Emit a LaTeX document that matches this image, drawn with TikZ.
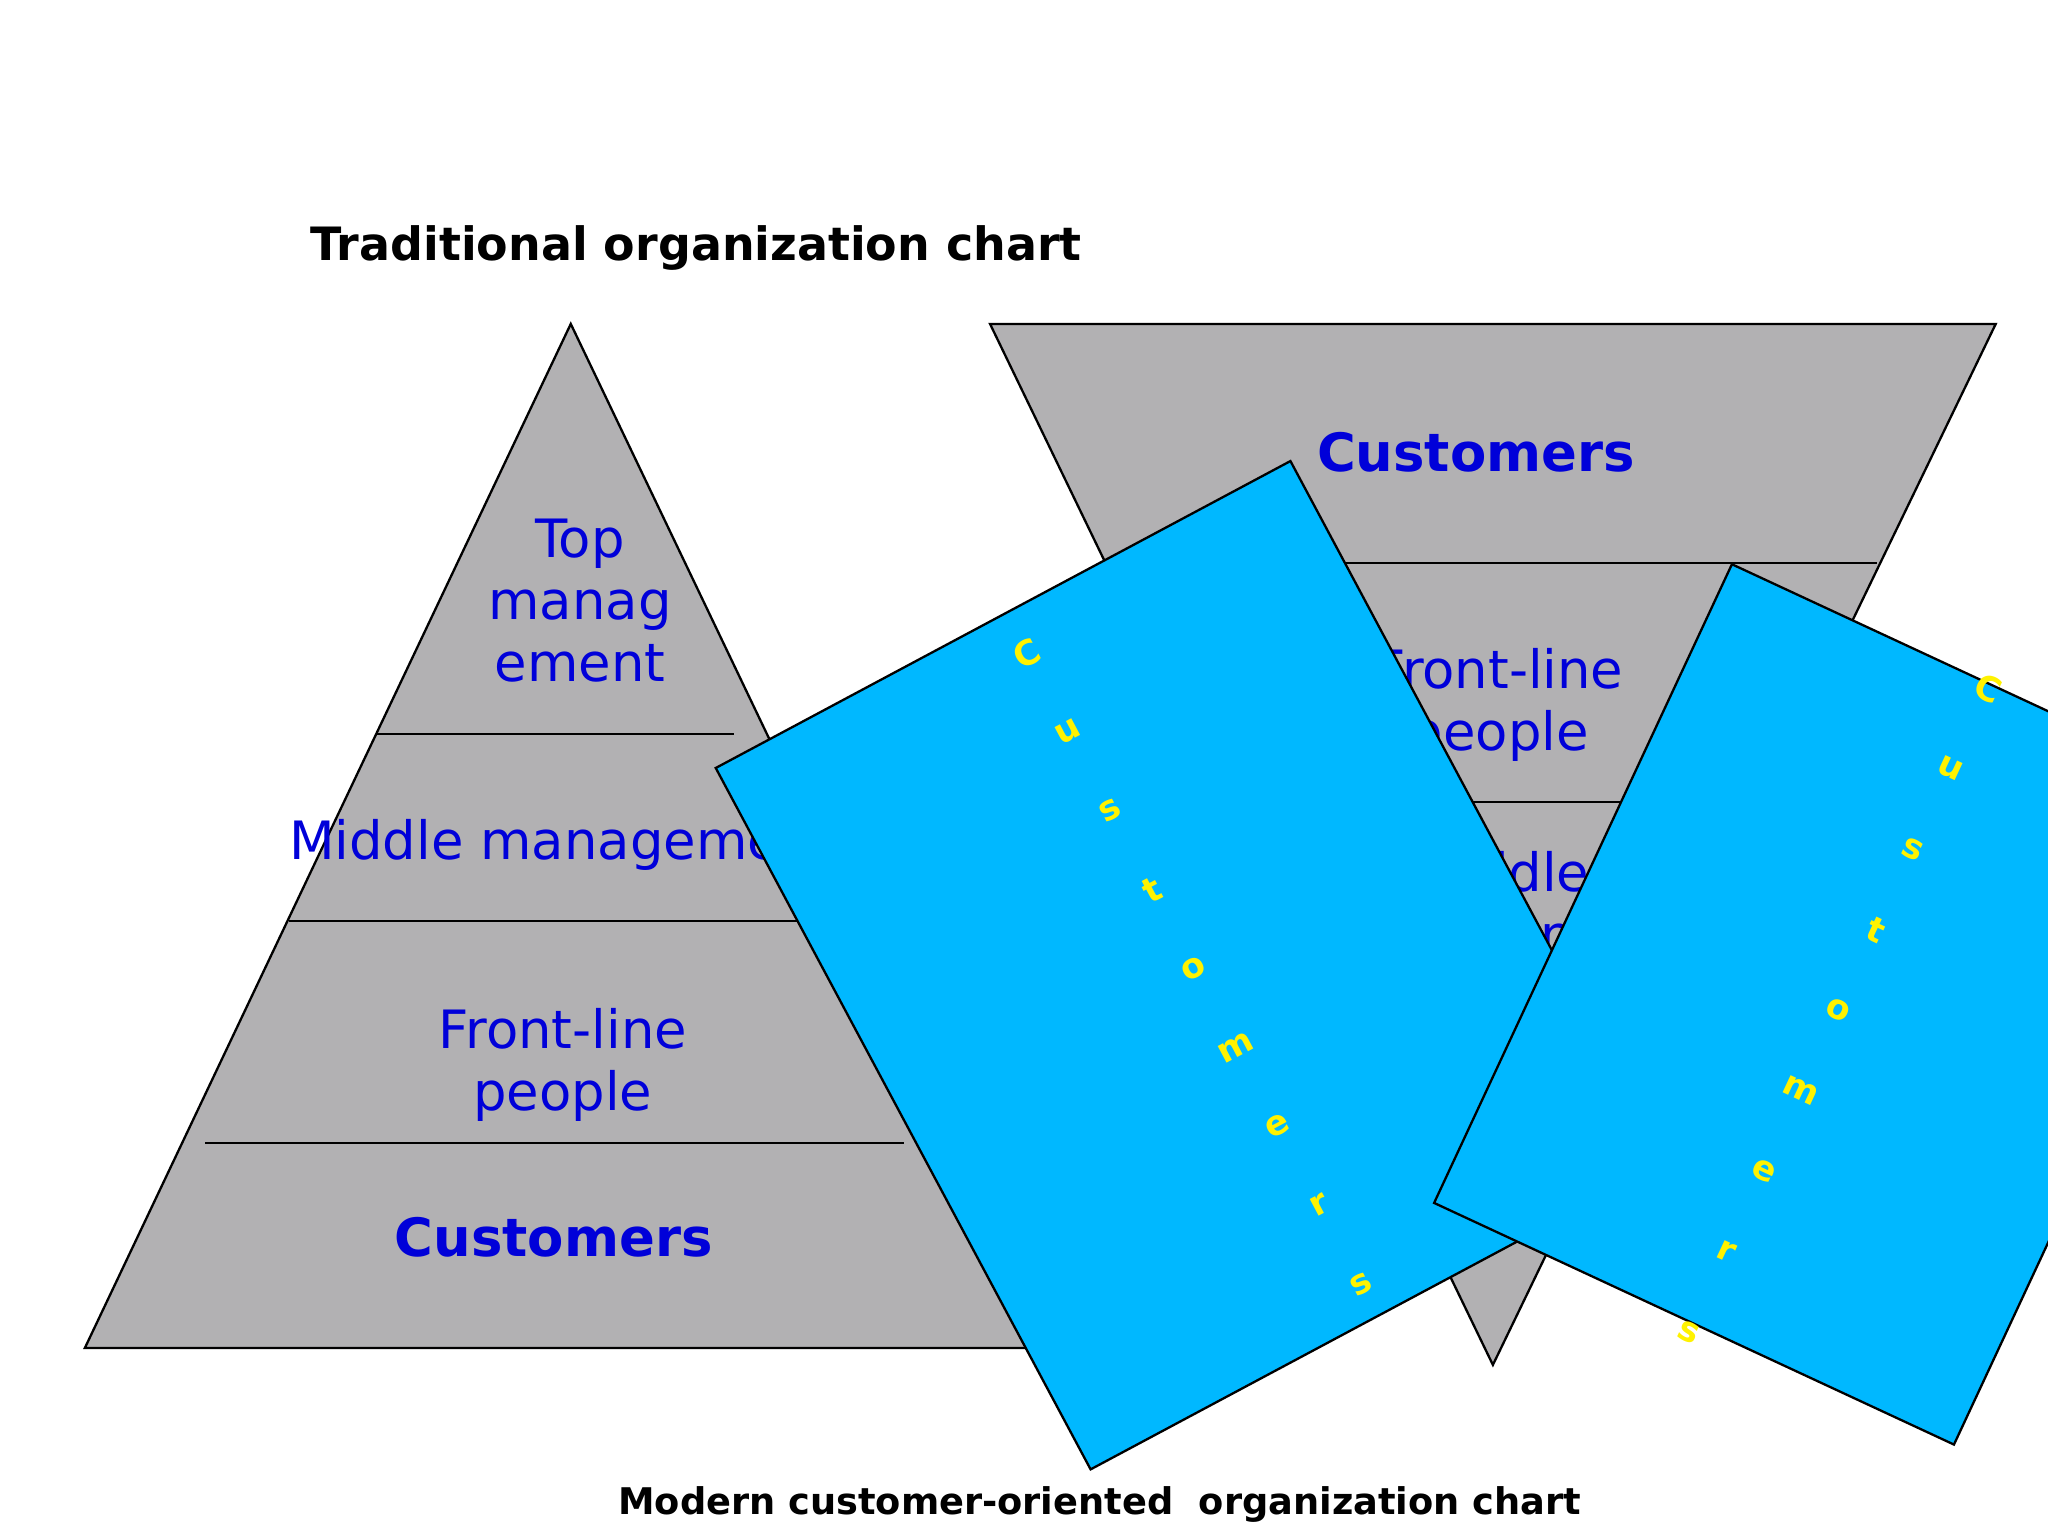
\documentclass[tikz,border=0pt]{standalone}
\usepackage{fontspec}
\setmainfont{DejaVu Sans}
\begin{document}
\begin{tikzpicture}[x=0.01cm,y=-0.01cm,
  tri/.style={draw=black,fill=gray!60!white,line width=0.5pt},
  lbl/.style={text=blue!85!black,font=\fontsize{11.5}{13.5}\selectfont,align=center},
  blbl/.style={text=blue!85!black,font=\fontsize{11.5}{13.5}\selectfont\bfseries,align=center},
  card/.style={draw=black,fill=cyan!70!blue!60!white,line width=0.5pt},
  letter/.style={text=yellow,font=\fontsize{7.5}{8}\selectfont\bfseries,inner sep=0pt}]
\definecolor{cardc}{RGB}{0,184,255}
\definecolor{trig}{RGB}{178,177,179}
\fill[white] (0,0) rectangle (1568,1176);
\clip (0,0) rectangle (1568,1176);
\useasboundingbox (0,0) rectangle (1568,1176);
\node[font=\fontsize{10}{12}\selectfont\bfseries] (t1) at (533,190) {Traditional organization chart};
\node[font=\fontsize{8}{10}\selectfont\bfseries] (t2) at (842,1152) {Modern customer-oriented\ \ organization chart};
% left pyramid
\draw[tri,fill=trig] (437,248) -- (65,1032) -- (812,1032) -- cycle;
\draw (288,562) -- (562,562);
\draw (221,705) -- (610,705);
\draw (157,875) -- (692,875);
\node[lbl] (l1) at (444,460) {Top\\manag\\ement};
\node[lbl] (l2) at (430,647) {Middle management};
\node[lbl] (l3) at (431,815) {Front-line\\people};
\node[blbl] (l4) at (424,947) {Customers};
% inverted pyramid
\draw[tri,fill=trig] (758,248) -- (1528,248) -- (1143,1045) -- cycle;
\draw (847,431) -- (1437,431);
\draw (935,614) -- (1351,614);
\node[blbl] (r1) at (1130,346) {Customers};
\node[lbl] (r2) at (1148,540) {Front-line\\people};
\node[lbl] (r3) at (1150,695) {Middle\\management};
% cards
\draw[card,fill=cardc] (548,588) -- (988,353) -- (1275,890) -- (835,1125) -- cycle;
\foreach \c [count=\i from 0] in {C,u,s,t,o,m,e,r,s}
  \node[letter,rotate=28] at ({786+\i*(1042-786)/8},{500+\i*(983-500)/8}) {\c};
\draw[card,fill=cardc] (1326,432) -- (1724,617) -- (1496,1106) -- (1098,921) -- cycle;
\foreach \c [count=\i from 0] in {C,u,s,t,o,m,e,r,s}
  \node[letter,rotate=-25] at ({1522-\i*(1522-1293)/8},{527+\i*(1020-527)/8}) {\c};
\end{tikzpicture}
\end{document}
